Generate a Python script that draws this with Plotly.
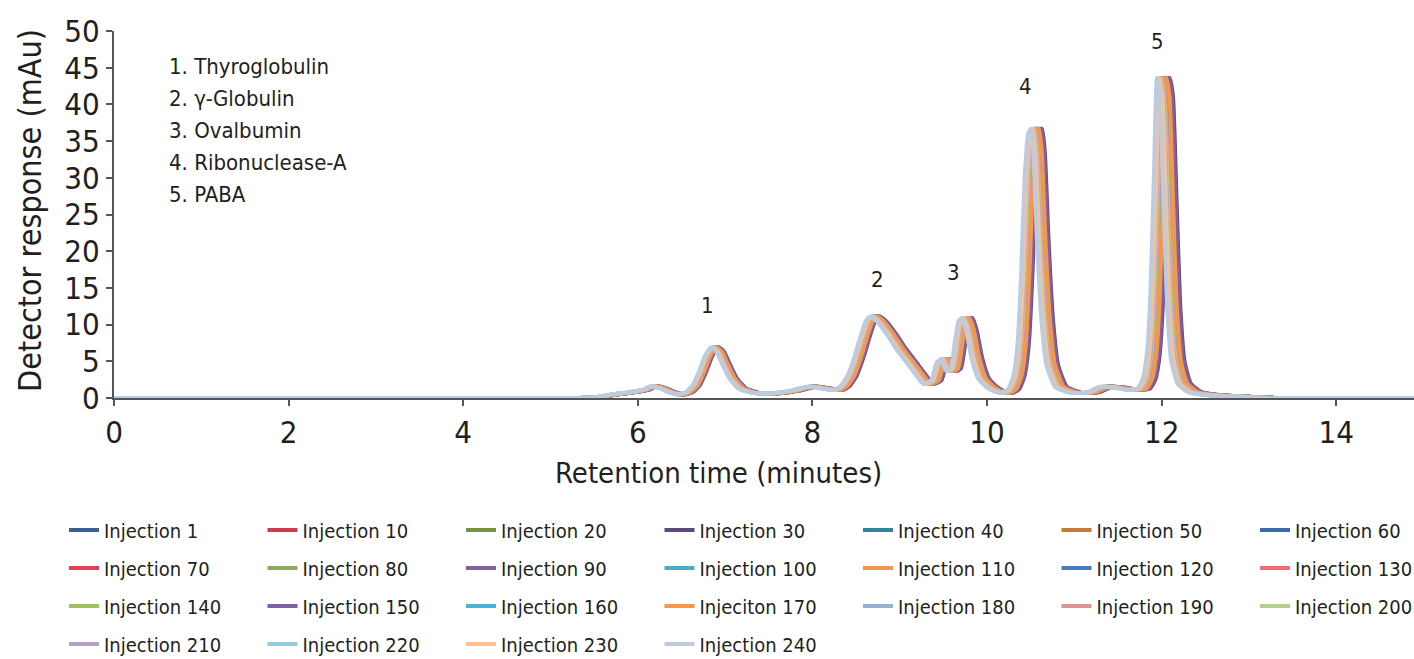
import plotly.graph_objects as go

# Base chromatogram (leftmost trace, Injection 240)
time_min = [0.0, 5.3, 5.5, 5.7, 5.9, 6.05, 6.14, 6.25, 6.35, 6.45, 6.55, 6.63, 6.7, 6.77, 6.84,
            6.9, 6.97, 7.05, 7.15, 7.3, 7.45, 7.6, 7.75, 7.92, 8.0, 8.1, 8.24, 8.32, 8.4, 8.48,
            8.55, 8.61, 8.66, 8.74, 8.86, 8.97, 9.08, 9.18, 9.27, 9.36, 9.42, 9.47, 9.53, 9.58,
            9.63, 9.67, 9.71, 9.76, 9.82, 9.9, 10.0, 10.08, 10.16, 10.24, 10.3, 10.35,
            10.39, 10.43, 10.47, 10.5, 10.53, 10.57, 10.62, 10.68, 10.78, 10.95, 11.15,
            11.28, 11.45, 11.6, 11.72, 11.78, 11.83, 11.87, 11.91, 11.945, 11.98, 12.02,
            12.06, 12.11, 12.18, 12.3, 12.5, 12.8, 13.2, 15.0]
response_mau = [0.0, 0.0, 0.1, 0.5, 0.8, 1.1, 1.6, 1.3, 0.8, 0.5, 0.8, 1.8, 3.6, 5.8, 6.9,
                6.3, 4.5, 2.6, 1.3, 0.7, 0.6, 0.7, 1.0, 1.5, 1.5, 1.3, 1.1, 1.6, 3.0, 5.6,
                8.4, 10.5, 11.1, 10.4, 8.5, 6.5, 4.8, 3.2, 1.9, 2.4, 4.8, 5.3, 3.7, 4.0,
                7.5, 10.4, 10.9, 9.2, 5.5, 2.6, 1.4, 0.9, 0.7, 1.2, 3.0, 7.5,
                17.0, 30.0, 36.0, 36.7, 33.5, 22.0, 11.0, 4.5, 1.5, 0.7, 0.8,
                1.5, 1.4, 1.1, 1.3, 2.5, 6.0, 14.0, 30.0, 43.6, 41.0, 27.0,
                13.0, 5.0, 2.0, 0.8, 0.4, 0.2, 0.0, 0.0]

# Injections, legend labels (as printed), colours and retention drift at 12 min
injection_labels = ["Injection 1", "Injection 10", "Injection 20", "Injection 30", "Injection 40",
                    "Injection 50", "Injection 60", "Injection 70", "Injection 80", "Injection 90",
                    "Injection 100", "Injection 110", "Injection 120", "Injection 130",
                    "Injection 140", "Injection 150", "Injection 160", "Injeciton 170",
                    "Injection 180", "Injection 190", "Injection 200", "Injection 210",
                    "Injection 220", "Injection 230", "Injection 240"]
injection_colors = ["#3B5F8F", "#CE3A4F", "#77933C", "#5F497A", "#31859C", "#C57A36",
                    "#3E6AAB", "#E0405A", "#8DAA5C", "#8064A2", "#4BACC6", "#EE9550",
                    "#4A7CC4", "#EE6E76", "#9DC45F", "#7E5FA8", "#4BB4D6", "#F79646",
                    "#95B3D7", "#D99694", "#B4D08C", "#B3A2C7", "#93CDDD", "#FAC090",
                    "#BCCCE0"]
drift_at_12min = [0.09, 0.11, 0.08, 0.15, 0.08, 0.12, 0.09, 0.10, 0.08, 0.14, 0.08, 0.12,
                  0.07, 0.09, 0.07, 0.13, 0.06, 0.11, 0.03, 0.06, 0.05, 0.04, 0.02, 0.03, 0.0]

compound_lines = ["1. Thyroglobulin", "2. \u03b3-Globulin", "3. Ovalbumin",
                  "4. Ribonuclease-A", "5. PABA"]
peak_labels = ["1", "2", "3", "4", "5"]
peak_label_x = [6.80, 8.75, 9.62, 10.44, 11.95]
peak_label_y = [12.6, 16.1, 17.1, 42.4, 48.6]

FONT = "Liberation Sans Narrow, DejaVu Sans Condensed, Arial Narrow, sans-serif"
INK = "#231F20"
W, H = 1414, 659
L, R, T, B = 114, 0, 31, 261

fig = go.Figure()
# legend rows split into two blocks (columns 1-4 and 5-7) to keep seven entries per row
row_y = [530, 568, 606, 644]
col_x0 = [64, 64 + 4 * 198.5]
legend_ids = []
legend_layouts = {}
for r in range(4):
    for half in range(2):
        if r == 3 and half == 1:
            continue
        n = len(legend_ids) + 1
        lid = "legend" if n == 1 else "legend%d" % n
        legend_ids.append((r, half, lid))
        legend_layouts[lid] = dict(
            orientation="h", xref="container", yref="container",
            x=col_x0[half] / W, y=1 - row_y[r] / H, xanchor="left", yanchor="middle",
            entrywidth=153.5, entrywidthmode="pixels", bgcolor="rgba(0,0,0,0)",
            font=dict(family=FONT, size=20, color=INK), itemwidth=30,
        )

def legend_for(i):
    r, c = divmod(i, 7)
    half = 0 if c < 4 else 1
    for rr, hh, lid in legend_ids:
        if rr == r and hh == half:
            return lid

for i, (lab, col, d) in enumerate(zip(injection_labels, injection_colors, drift_at_12min)):
    xs = [t * (1 + d / 12.0) for t in time_min]
    fig.add_trace(go.Scatter(
        x=xs, y=response_mau, mode="lines", name=lab,
        line=dict(color=col, width=4, shape="spline", smoothing=0.5),
        cliponaxis=False, legend=legend_for(i),
    ))

annotations = []
for k, txt in enumerate(compound_lines):
    annotations.append(dict(x=0.61, y=45.1 - k * 4.33, xref="x", yref="y", text=txt,
                            showarrow=False, xanchor="left", yanchor="middle",
                            font=dict(family=FONT, size=22, color=INK)))
for txt, px, py in zip(peak_labels, peak_label_x, peak_label_y):
    annotations.append(dict(x=px, y=py, xref="x", yref="y", text=txt, showarrow=False,
                            xanchor="center", yanchor="middle",
                            font=dict(family=FONT, size=22, color=INK)))
# axis titles (positioned in pixels, converted to paper units)
annotations.append(dict(x=(718 - L) / (W - L - R), y=(H - 473 - B) / (H - T - B),
                        xref="paper", yref="paper",
                        text="Retention time (minutes)", showarrow=False,
                        xanchor="center", yanchor="middle",
                        font=dict(family=FONT, size=29, color=INK)))
annotations.append(dict(x=(30 - L) / (W - L - R), y=(H - 211 - B) / (H - T - B),
                        xref="paper", yref="paper",
                        text="Detector response (mAu)", showarrow=False, textangle=-90,
                        xanchor="center", yanchor="middle",
                        font=dict(family=FONT, size=32, color=INK)))

fig.update_layout(
    width=W, height=H,
    margin=dict(l=L, r=R, t=T, b=B, autoexpand=False),
    paper_bgcolor="white", plot_bgcolor="white",
    showlegend=True,
    annotations=annotations,
    xaxis=dict(range=[0, 14.89], tickvals=[0, 2, 4, 6, 8, 10, 12, 14], automargin=False,
               showgrid=False, zeroline=False, showline=True, linecolor="#555555",
               linewidth=2, ticks="outside", ticklen=6, tickwidth=2, tickcolor="#555555",
               layer="below traces",
               tickfont=dict(family=FONT, size=31, color=INK)),
    yaxis=dict(range=[0, 50], tickvals=list(range(0, 51, 5)), automargin=False,
               showgrid=False, zeroline=False, showline=True, linecolor="#555555",
               linewidth=2, ticks="outside", ticklen=6, tickwidth=2, tickcolor="#555555",
               layer="below traces",
               tickfont=dict(family=FONT, size=31, color=INK)),
    **legend_layouts,
)

fig.write_html("out.html", config={"displayModeBar": False},
               post_script="document.body.style.margin='0';")
